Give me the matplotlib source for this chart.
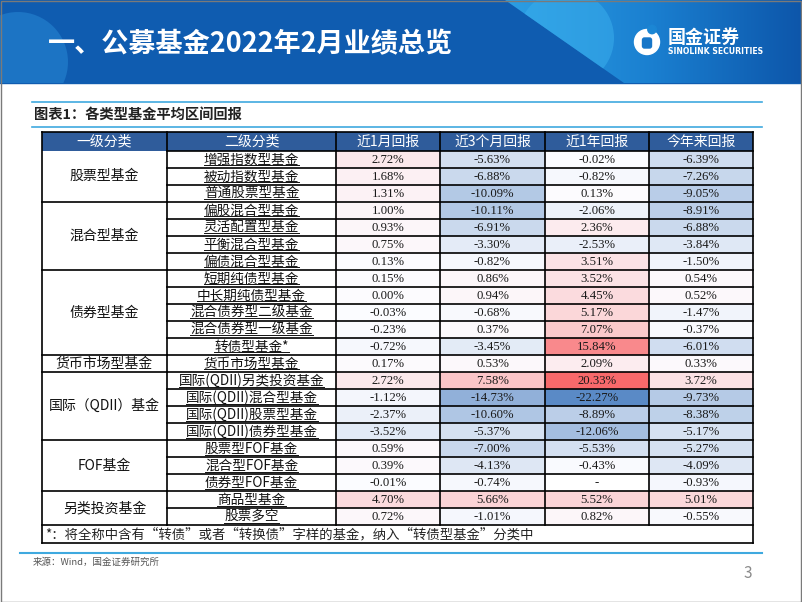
import numpy as np
import matplotlib
matplotlib.use('Agg')
import matplotlib.pyplot as plt
from matplotlib.patches import Rectangle, Polygon, Circle, FancyBboxPatch
from matplotlib.colors import LinearSegmentedColormap, TwoSlopeNorm

plt.rcParams['font.family'] = ['Noto Sans CJK SC', 'DejaVu Sans']

# ---- data ----
level1 = ['股票型基金', '混合型基金', '债券型基金', '货币市场型基金',
          '国际（QDII）基金', 'FOF基金', '另类投资基金']
level1_span = [3, 4, 5, 1, 4, 3, 2]
level2 = ['增强指数型基金', '被动指数型基金', '普通股票型基金',
          '偏股混合型基金', '灵活配置型基金', '平衡混合型基金', '偏债混合型基金',
          '短期纯债型基金', '中长期纯债型基金', '混合债券型二级基金', '混合债券型一级基金', '转债型基金*',
          '货币市场型基金',
          '国际(QDII)另类投资基金', '国际(QDII)混合型基金', '国际(QDII)股票型基金', '国际(QDII)债券型基金',
          '股票型FOF基金', '混合型FOF基金', '债券型FOF基金',
          '商品型基金', '股票多空']
headers = ['一级分类', '二级分类', '近1月回报', '近3个月回报', '近1年回报', '今年来回报']
ret_1m = [2.72, 1.68, 1.31, 1.00, 0.93, 0.75, 0.13, 0.15, 0.00, -0.03, -0.23, -0.72,
          0.17, 2.72, -1.12, -2.37, -3.52, 0.59, 0.39, -0.01, 4.70, 0.72]
ret_3m = [-5.63, -6.88, -10.09, -10.11, -6.91, -3.30, -0.82, 0.86, 0.94, -0.68, 0.37, -3.45,
          0.53, 7.58, -14.73, -10.60, -5.37, -7.00, -4.13, -0.74, 5.66, -1.01]
ret_1y = [-0.02, -0.82, 0.13, -2.06, 2.36, -2.53, 3.51, 3.52, 4.45, 5.17, 7.07, 15.84,
          2.09, 20.33, -22.27, -8.89, -12.06, -5.53, -0.43, np.nan, 5.52, 0.82]
ret_ytd = [-6.39, -7.26, -9.05, -8.91, -6.88, -3.84, -1.50, 0.54, 0.52, -1.47, -0.37, -6.01,
           0.33, 3.72, -9.73, -8.38, -5.17, -5.27, -4.09, -0.93, 5.01, -0.55]
footnote = '*：将全称中含有“转债”或者“转换债”字样的基金，纳入“转债型基金”分类中'
title = '一、公募基金2022年2月业绩总览'
caption = '图表1：各类型基金平均区间回报'
source = '来源：Wind，国金证券研究所'

values = np.array([ret_1m, ret_3m, ret_1y, ret_ytd]).T

fig = plt.figure(figsize=(8.02, 6.02), dpi=100)
ax = fig.add_axes([0, 0, 1, 1])
ax.set_xlim(0, 802)
ax.set_ylim(602, 0)
ax.axis('off')

# ---- banner ----
ban_h = 83
ax.add_patch(Rectangle((0, 0), 802, ban_h, color='#0F5CB0', zorder=1))
grad = np.linspace(0, 1, 256).reshape(1, -1)
band_cmap = LinearSegmentedColormap.from_list('band', ['#2C9FE4', '#1A7FD0', '#0D56AA'])
band = Polygon([(505, 0), (802, 0), (802, ban_h), (624, ban_h)], closed=True,
               facecolor='none', edgecolor='none')
ax.add_patch(band)
im = ax.imshow(grad, extent=(505, 802, ban_h, 0), cmap=band_cmap, aspect='auto', zorder=2)
im.set_clip_path(band)
glow = Circle((566, 38), 48, facecolor='#3AAEEC', edgecolor='none', alpha=0.55, zorder=3)
ax.add_patch(glow)
glow.set_clip_path(band)
left_glow = Circle((18, 62), 50, facecolor='#1C74C4', edgecolor='none', zorder=2)
ax.add_patch(left_glow)
left_glow.set_clip_path(Rectangle((0, 0), 802, ban_h, transform=ax.transData))

ax.text(48, 44, title, color='white', fontsize=19.5, fontweight='bold',
        ha='left', va='center', zorder=5)

# logo
ax.add_patch(Circle((647, 42), 12.5, color='white', zorder=5))
ax.add_patch(FancyBboxPatch((642.5, 38), 9, 10, boxstyle='round,pad=0,rounding_size=2',
                            color='#1676C8', zorder=6))
ax.add_patch(Circle((652, 29.5), 4.2, color='#1B86D4', zorder=6))
ax.text(668, 37, '国金证券', color='white', fontsize=13, fontweight='bold',
        ha='left', va='center', zorder=6)
ax.text(668, 52, 'SINOLINK SECURITIES', color='white', fontsize=5.6, fontweight='bold',
        family='DejaVu Sans', ha='left', va='center', zorder=6)

# ---- caption ----
ax.plot([32, 762], [102, 102], color='#3FA9DF', lw=1.2, zorder=2)
ax.plot([32, 762], [126.5, 126.5], color='#3FA9DF', lw=1.2, zorder=2)
ax.text(34, 114.5, caption, fontsize=10.3, fontweight='bold', color='#222222',
        ha='left', va='center')

# ---- table ----
col_edges = [42, 167, 336, 440, 545, 649, 753]
head_top, head_bot = 132, 150.7
row_h = 17.03
n_rows = len(level2)
row_tops = head_bot + row_h * np.arange(n_rows)
table_bot = head_bot + row_h * n_rows
foot_bot = table_bot + 17.4

cmap = LinearSegmentedColormap.from_list('excel3', ['#5A8AC6', '#FCFCFF', '#F8696B'])
norm = TwoSlopeNorm(vmin=np.nanmin(values), vcenter=0.0, vmax=np.nanmax(values))

lw = 1.2
# header
ax.add_patch(Rectangle((col_edges[0], head_top), col_edges[-1] - col_edges[0],
                       head_bot - head_top, facecolor='#2F5C9B', edgecolor='none', zorder=2))
for j, h in enumerate(headers):
    ax.text((col_edges[j] + col_edges[j + 1]) / 2, (head_top + head_bot) / 2 + 0.5, h,
            color='white', fontsize=10, ha='center', va='center', zorder=4)

# value cells
for i in range(n_rows):
    y0 = row_tops[i]
    for k in range(4):
        x0, x1 = col_edges[k + 2], col_edges[k + 3]
        v = values[i, k]
        fc = 'white' if np.isnan(v) else cmap(norm(v))
        ax.add_patch(Rectangle((x0, y0), x1 - x0, row_h, facecolor=fc, edgecolor='none', zorder=2))
        label = '-' if np.isnan(v) else f'{v:.2f}%'
        ax.text((x0 + x1) / 2, y0 + row_h / 2 + 0.5, label, family='Liberation Serif',
                fontsize=9.2, color='#1a1a1a', ha='center', va='center', zorder=4)

# level2 labels
l2_texts = []
for i, name in enumerate(level2):
    t = ax.text((col_edges[1] + col_edges[2]) / 2, row_tops[i] + row_h / 2, name,
                fontsize=9.8, color='#111111', ha='center', va='center', zorder=4)
    l2_texts.append((t, row_tops[i]))

# level1 labels and group lines
start = 0
for name, span in zip(level1, level1_span):
    y0 = row_tops[start]
    y1 = y0 + span * row_h
    ax.text((col_edges[0] + col_edges[1]) / 2, (y0 + y1) / 2, name,
            fontsize=10, color='#111111', ha='center', va='center', zorder=4)
    ax.plot([col_edges[0], col_edges[1]], [y1, y1], color='black', lw=lw, zorder=5)
    start += span

# row lines (col 2 onward)
for i in range(n_rows + 1):
    y = head_bot + row_h * i
    ax.plot([col_edges[1], col_edges[-1]], [y, y], color='black', lw=lw, zorder=5)
# column lines
for x in col_edges[1:-1]:
    ax.plot([x, x], [head_top, table_bot], color='#1F3F6E' if False else 'black', lw=lw, zorder=5)
# header inner separators in lighter tone
ax.plot([col_edges[0], col_edges[0]], [head_top, foot_bot], color='black', lw=lw, zorder=5)
ax.plot([col_edges[-1], col_edges[-1]], [head_top, foot_bot], color='black', lw=lw, zorder=5)
ax.plot([col_edges[0], col_edges[-1]], [head_top, head_top], color='black', lw=lw, zorder=5)
ax.plot([col_edges[0], col_edges[-1]], [foot_bot, foot_bot], color='black', lw=lw, zorder=5)

ax.text(col_edges[0] + 3, (table_bot + foot_bot) / 2, footnote, fontsize=9.6,
        color='#222222', style='italic', ha='left', va='center', zorder=4)

# underline level2 labels
fig.canvas.draw()
inv = ax.transData.inverted()
for t, y0 in l2_texts:
    bb = t.get_window_extent()
    (xa, _), (xb, _) = inv.transform([(bb.x0, bb.y0), (bb.x1, bb.y0)])
    ax.plot([xa, xb], [y0 + row_h - 2.6, y0 + row_h - 2.6], color='#111111', lw=0.7, zorder=4)

# ---- bottom ----
ax.plot([20, 762], [552.5, 552.5], color='#3FA9DF', lw=1.5)
ax.text(33, 562.5, source, fontsize=6.8, color='#555555', ha='left', va='center')
ax.text(748, 573, '3', fontsize=11, color='#8a8a8a', ha='center', va='center')

# slide frame
ax.add_patch(Rectangle((0.5, 0.5), 800, 601, facecolor='none', edgecolor='#7a7a7a', lw=1, zorder=10))

fig.savefig('out.png', dpi=100)
